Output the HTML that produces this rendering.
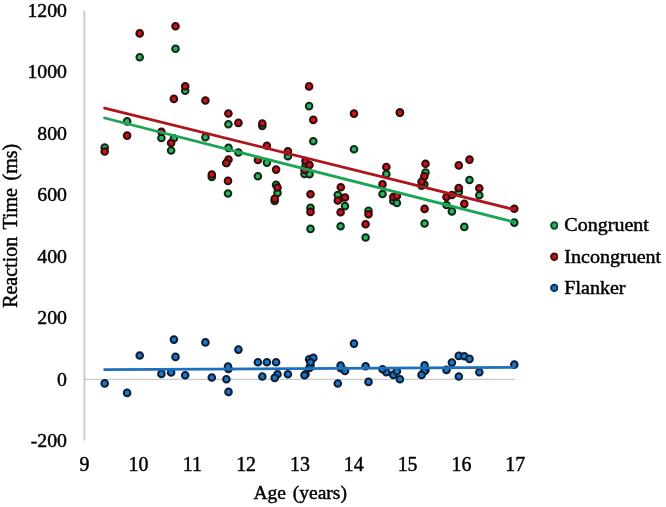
<!DOCTYPE html>
<html lang="en">
<head>
<meta charset="utf-8">
<title>Reaction Time vs Age</title>
<style>
html,body{margin:0;padding:0;background:#fff;}
body{width:666px;height:507px;overflow:hidden;}
svg{display:block;}
</style>
</head>
<body>
<svg width="666" height="507" viewBox="0 0 666 507">
<defs><filter id="sf" x="-5%" y="-5%" width="110%" height="110%"><feGaussianBlur stdDeviation="0.45"/></filter><filter id="tf" x="-5%" y="-5%" width="110%" height="110%"><feGaussianBlur stdDeviation="0.3"/></filter></defs>
<rect width="666" height="507" fill="#fff"/>
<g filter="url(#sf)">
<line x1="84.4" y1="10.6" x2="84.4" y2="440.4" stroke="#c9c9c9" stroke-width="1.8"/>
<line x1="84" y1="379.3" x2="514.8" y2="379.3" stroke="#bfbfbf" stroke-width="1.0"/>
<g fill="#2cb463" stroke="#0d2a17" stroke-width="2.0"><circle cx="104.7" cy="147.5" r="3.3"/><circle cx="127.1" cy="121.4" r="3.3"/><circle cx="139.7" cy="57.3" r="3.3"/><circle cx="161.4" cy="138.0" r="3.3"/><circle cx="173.9" cy="138.2" r="3.3"/><circle cx="175.5" cy="48.7" r="3.3"/><circle cx="171.1" cy="150.5" r="3.3"/><circle cx="185.2" cy="90.7" r="3.3"/><circle cx="205.4" cy="137.2" r="3.3"/><circle cx="211.8" cy="176.9" r="3.3"/><circle cx="228.4" cy="124.3" r="3.3"/><circle cx="238.4" cy="152.5" r="3.3"/><circle cx="228.5" cy="147.9" r="3.3"/><circle cx="226.4" cy="163.0" r="3.3"/><circle cx="228.0" cy="193.5" r="3.3"/><circle cx="257.9" cy="176.3" r="3.3"/><circle cx="262.3" cy="125.9" r="3.3"/><circle cx="266.9" cy="162.6" r="3.3"/><circle cx="276.1" cy="184.9" r="3.3"/><circle cx="277.5" cy="192.9" r="3.3"/><circle cx="274.7" cy="200.9" r="3.3"/><circle cx="287.9" cy="156.2" r="3.3"/><circle cx="309.1" cy="106.1" r="3.3"/><circle cx="313.3" cy="141.2" r="3.3"/><circle cx="305.5" cy="165.7" r="3.3"/><circle cx="304.5" cy="174.0" r="3.3"/><circle cx="309.5" cy="174.3" r="3.3"/><circle cx="310.5" cy="207.9" r="3.3"/><circle cx="310.5" cy="228.9" r="3.3"/><circle cx="340.8" cy="197.9" r="3.3"/><circle cx="337.8" cy="195.0" r="3.3"/><circle cx="345.0" cy="206.1" r="3.3"/><circle cx="340.6" cy="226.3" r="3.3"/><circle cx="354.0" cy="149.3" r="3.3"/><circle cx="368.5" cy="210.9" r="3.3"/><circle cx="365.6" cy="237.5" r="3.3"/><circle cx="386.3" cy="174.0" r="3.3"/><circle cx="382.5" cy="194.0" r="3.3"/><circle cx="393.3" cy="201.0" r="3.3"/><circle cx="396.9" cy="203.0" r="3.3"/><circle cx="399.9" cy="112.6" r="3.3"/><circle cx="425.5" cy="172.5" r="3.3"/><circle cx="424.3" cy="184.2" r="3.3"/><circle cx="421.6" cy="185.8" r="3.3"/><circle cx="424.6" cy="223.5" r="3.3"/><circle cx="446.5" cy="205.0" r="3.3"/><circle cx="451.9" cy="211.4" r="3.3"/><circle cx="458.8" cy="188.5" r="3.3"/><circle cx="458.8" cy="192.0" r="3.3"/><circle cx="464.3" cy="226.9" r="3.3"/><circle cx="469.5" cy="180.0" r="3.3"/><circle cx="479.3" cy="195.3" r="3.3"/><circle cx="514.3" cy="222.6" r="3.3"/></g>
<g fill="#c4121b" stroke="#330809" stroke-width="2.0"><circle cx="104.7" cy="151.5" r="3.3"/><circle cx="127.1" cy="135.6" r="3.3"/><circle cx="139.7" cy="33.4" r="3.3"/><circle cx="161.4" cy="131.7" r="3.3"/><circle cx="173.9" cy="98.9" r="3.3"/><circle cx="175.5" cy="26.2" r="3.3"/><circle cx="171.1" cy="143.0" r="3.3"/><circle cx="185.2" cy="86.3" r="3.3"/><circle cx="205.4" cy="100.5" r="3.3"/><circle cx="211.8" cy="174.5" r="3.3"/><circle cx="228.4" cy="113.5" r="3.3"/><circle cx="238.4" cy="122.9" r="3.3"/><circle cx="228.5" cy="159.5" r="3.3"/><circle cx="226.4" cy="163.0" r="3.3"/><circle cx="228.0" cy="180.9" r="3.3"/><circle cx="257.9" cy="160.0" r="3.3"/><circle cx="262.3" cy="123.5" r="3.3"/><circle cx="266.9" cy="145.7" r="3.3"/><circle cx="276.1" cy="169.6" r="3.3"/><circle cx="277.5" cy="187.5" r="3.3"/><circle cx="274.7" cy="198.9" r="3.3"/><circle cx="287.9" cy="151.2" r="3.3"/><circle cx="309.1" cy="86.4" r="3.3"/><circle cx="313.3" cy="119.9" r="3.3"/><circle cx="305.5" cy="161.0" r="3.3"/><circle cx="304.5" cy="170.0" r="3.3"/><circle cx="309.5" cy="165.0" r="3.3"/><circle cx="310.5" cy="194.3" r="3.3"/><circle cx="310.5" cy="211.9" r="3.3"/><circle cx="340.8" cy="187.2" r="3.3"/><circle cx="337.8" cy="200.5" r="3.3"/><circle cx="345.0" cy="197.5" r="3.3"/><circle cx="340.6" cy="212.3" r="3.3"/><circle cx="354.0" cy="113.6" r="3.3"/><circle cx="368.5" cy="214.3" r="3.3"/><circle cx="365.6" cy="224.3" r="3.3"/><circle cx="386.3" cy="167.0" r="3.3"/><circle cx="382.5" cy="184.4" r="3.3"/><circle cx="393.3" cy="197.0" r="3.3"/><circle cx="396.9" cy="196.0" r="3.3"/><circle cx="399.9" cy="112.6" r="3.3"/><circle cx="425.5" cy="163.7" r="3.3"/><circle cx="424.3" cy="176.4" r="3.3"/><circle cx="421.6" cy="181.7" r="3.3"/><circle cx="424.6" cy="208.9" r="3.3"/><circle cx="446.5" cy="197.0" r="3.3"/><circle cx="451.9" cy="195.0" r="3.3"/><circle cx="458.8" cy="165.4" r="3.3"/><circle cx="458.8" cy="188.0" r="3.3"/><circle cx="464.3" cy="203.9" r="3.3"/><circle cx="469.5" cy="159.6" r="3.3"/><circle cx="479.3" cy="188.3" r="3.3"/><circle cx="514.3" cy="208.8" r="3.3"/></g>
<g fill="#1f77c2" stroke="#0b1f38" stroke-width="2.0"><circle cx="104.7" cy="383.4" r="3.3"/><circle cx="127.1" cy="392.9" r="3.3"/><circle cx="139.7" cy="355.5" r="3.3"/><circle cx="161.4" cy="373.9" r="3.3"/><circle cx="173.9" cy="339.6" r="3.3"/><circle cx="175.5" cy="356.9" r="3.3"/><circle cx="171.1" cy="372.5" r="3.3"/><circle cx="185.2" cy="375.3" r="3.3"/><circle cx="205.4" cy="342.4" r="3.3"/><circle cx="211.8" cy="377.5" r="3.3"/><circle cx="228.4" cy="368.9" r="3.3"/><circle cx="238.4" cy="349.6" r="3.3"/><circle cx="228.5" cy="391.9" r="3.3"/><circle cx="226.4" cy="379.3" r="3.3"/><circle cx="228.0" cy="366.5" r="3.3"/><circle cx="257.9" cy="362.3" r="3.3"/><circle cx="262.3" cy="376.5" r="3.3"/><circle cx="266.9" cy="362.3" r="3.3"/><circle cx="276.1" cy="362.3" r="3.3"/><circle cx="277.5" cy="374.3" r="3.3"/><circle cx="274.7" cy="377.9" r="3.3"/><circle cx="287.9" cy="374.3" r="3.3"/><circle cx="309.1" cy="359.3" r="3.3"/><circle cx="313.3" cy="357.9" r="3.3"/><circle cx="305.5" cy="374.3" r="3.3"/><circle cx="304.5" cy="375.3" r="3.3"/><circle cx="309.5" cy="367.9" r="3.3"/><circle cx="310.5" cy="365.4" r="3.3"/><circle cx="310.5" cy="362.3" r="3.3"/><circle cx="340.8" cy="368.3" r="3.3"/><circle cx="337.8" cy="383.5" r="3.3"/><circle cx="345.0" cy="370.9" r="3.3"/><circle cx="340.6" cy="365.5" r="3.3"/><circle cx="354.0" cy="343.6" r="3.3"/><circle cx="368.5" cy="381.9" r="3.3"/><circle cx="365.6" cy="366.3" r="3.3"/><circle cx="386.3" cy="372.3" r="3.3"/><circle cx="382.5" cy="369.3" r="3.3"/><circle cx="393.3" cy="374.9" r="3.3"/><circle cx="396.9" cy="371.3" r="3.3"/><circle cx="399.9" cy="379.3" r="3.3"/><circle cx="425.5" cy="370.3" r="3.3"/><circle cx="424.3" cy="371.2" r="3.3"/><circle cx="421.6" cy="374.9" r="3.3"/><circle cx="424.6" cy="365.3" r="3.3"/><circle cx="446.5" cy="369.9" r="3.3"/><circle cx="451.9" cy="362.6" r="3.3"/><circle cx="458.8" cy="355.9" r="3.3"/><circle cx="458.8" cy="376.5" r="3.3"/><circle cx="464.3" cy="356.3" r="3.3"/><circle cx="469.5" cy="358.9" r="3.3"/><circle cx="479.3" cy="372.3" r="3.3"/><circle cx="514.3" cy="364.6" r="3.3"/></g>
<g stroke-linecap="round" fill="none">
<line x1="104.6" y1="118.0" x2="514.3" y2="222.1" stroke="#1ca653" stroke-width="2.8"/>
<line x1="104.6" y1="108.2" x2="514.3" y2="209.6" stroke="#ad141b" stroke-width="2.8"/>
<line x1="104.6" y1="369.7" x2="514.3" y2="367.4" stroke="#1b70bd" stroke-width="2.7"/>
</g>
</g>
<g font-family="'Liberation Serif', 'Times New Roman', serif" fill="#000" stroke="#000" stroke-width="0.45" stroke-linejoin="round" filter="url(#tf)">
<g font-size="19.8" text-anchor="end">
<text x="67.0" y="16.9">1200</text>
<text x="67.0" y="78.3">1000</text>
<text x="67.0" y="139.8">800</text>
<text x="67.0" y="201.2">600</text>
<text x="67.0" y="262.6">400</text>
<text x="67.0" y="324.1">200</text>
<text x="67.0" y="385.5">0</text>
<text x="67.0" y="446.9">-200</text>
</g>
<g font-size="19.9" text-anchor="middle">
<text x="84.6" y="470.5">9</text>
<text x="138.4" y="470.5">10</text>
<text x="192.3" y="470.5">11</text>
<text x="246.1" y="470.5">12</text>
<text x="299.9" y="470.5">13</text>
<text x="353.8" y="470.5">14</text>
<text x="407.6" y="470.5">15</text>
<text x="461.4" y="470.5">16</text>
<text x="515.2" y="470.5">17</text>
</g>
<text x="300.2" y="498.7" font-size="19.5" word-spacing="2" text-anchor="middle">Age (years)</text>
<text transform="translate(17.4 225.8) rotate(-90)" font-size="20" word-spacing="2.6" text-anchor="middle">Reaction Time (ms)</text>
<g font-size="18.4">
<text transform="translate(564.3 231.3) scale(1.09 1)">Congruent</text>
<text transform="translate(564.3 262.6) scale(1.09 1)">Incongruent</text>
<text transform="translate(564.3 293.8) scale(1.09 1)">Flanker</text>
</g>
</g>
<g filter="url(#sf)">
<circle cx="554.3" cy="225.5" r="3.2" fill="#2cb463" stroke="#0e4d28" stroke-width="2"/>
<circle cx="554.3" cy="256.7" r="3.2" fill="#c4121b" stroke="#4d0c0e" stroke-width="2"/>
<circle cx="554.3" cy="287.9" r="3.2" fill="#1f77c2" stroke="#0e3358" stroke-width="2"/>
</g>
</svg>
</body>
</html>
